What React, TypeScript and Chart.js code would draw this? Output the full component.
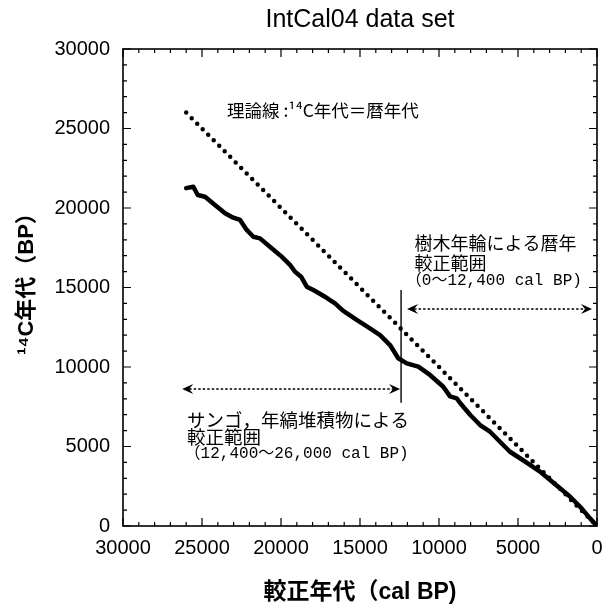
import { useEffect, useRef } from "react";
import { Chart, registerables } from "chart.js";

Chart.register(...registerables);

// IntCal04 calibration curve: calendar age (cal BP) vs radiocarbon age (14C BP)
const calBP = [
  26000, 25550, 25270, 24810, 24180, 23540, 23020, 22590, 22170, 21750,
  21330, 20590, 19960, 19430, 19110, 18730, 18370, 17950, 17220, 16900,
  16580, 16060, 15210, 14370, 13730, 13100, 12580, 12040, 11310, 10570,
  9730, 9300, 8880, 8650, 8020, 7400, 6770, 6140, 5510, 4870,
  4240, 3610, 2970, 2340, 1700, 1070, 440, 0,
];
const c14BP = [
  21250, 21340, 20820, 20710, 20190, 19670, 19390, 19250, 18620, 18190,
  18090, 17470, 16940, 16420, 15990, 15680, 15050, 14840, 14420, 14210,
  14000, 13530, 12960, 12430, 12010, 11380, 10550, 10230, 10020, 9500,
  8760, 8150, 8030, 7720, 6980, 6350, 5930, 5300, 4670, 4260,
  3840, 3420, 2890, 2370, 1840, 1210, 480, 0,
];

// Theoretical line: 14C age equals calendar age
const theoryCal = [26000, 0];
const theoryC14 = [26000, 0];

// Calibration ranges (cal BP)
const treeRingRange = [12400, 0];
const varveRange = [26000, 12400];

const xTickValues = [30000, 25000, 20000, 15000, 10000, 5000, 0];
const yTickValues = [0, 5000, 10000, 15000, 20000, 25000, 30000];

const SANS = "'Liberation Sans', 'Noto Sans CJK JP', sans-serif";
const CJK = "'Noto Sans CJK JP', sans-serif";
const MONO = "'Liberation Mono', 'Noto Sans CJK JP', monospace";

function arrowHead(ctx: CanvasRenderingContext2D, tx: number, ty: number, dir: number) {
  ctx.beginPath();
  ctx.moveTo(tx, ty);
  ctx.lineTo(tx + dir * 11, ty - 5);
  ctx.lineTo(tx + dir * 7, ty);
  ctx.lineTo(tx + dir * 11, ty + 5);
  ctx.closePath();
  ctx.fill();
}

function rangeArrow(ctx: CanvasRenderingContext2D, x1: number, x2: number, yy: number) {
  const l = Math.min(x1, x2);
  const r = Math.max(x1, x2);
  ctx.save();
  ctx.lineWidth = 1.5;
  ctx.setLineDash([2.5, 2]);
  ctx.beginPath();
  ctx.moveTo(l + 7, yy);
  ctx.lineTo(r - 7, yy);
  ctx.stroke();
  ctx.setLineDash([]);
  arrowHead(ctx, l, yy, 1);
  arrowHead(ctx, r, yy, -1);
  ctx.restore();
}

const decorations = {
  id: "decorations",
  afterDraw(chart: any) {
    const { ctx, chartArea: a, scales } = chart;
    const x = scales.x;
    const y = scales.y;
    const px = (v: number) => x.getPixelForValue(v);
    const py = (v: number) => y.getPixelForValue(v);
    ctx.save();
    ctx.strokeStyle = "#000";
    ctx.fillStyle = "#000";

    // frame
    ctx.lineWidth = 1.6;
    ctx.strokeRect(a.left, a.top, a.right - a.left, a.bottom - a.top);

    // inward ticks on all four sides
    ctx.lineWidth = 1.2;
    ctx.beginPath();
    for (let v = 0; v <= 30000; v += 1000) {
      const len = v % 5000 === 0 ? 8 : 4;
      const xp = px(v);
      const yp = py(v);
      ctx.moveTo(xp, a.bottom);
      ctx.lineTo(xp, a.bottom - len);
      ctx.moveTo(xp, a.top);
      ctx.lineTo(xp, a.top + len);
      ctx.moveTo(a.left, yp);
      ctx.lineTo(a.left + len, yp);
      ctx.moveTo(a.right, yp);
      ctx.lineTo(a.right - len, yp);
    }
    ctx.stroke();

    // title and axis titles
    ctx.textBaseline = "middle";
    ctx.textAlign = "center";
    ctx.font = `25px ${SANS}`;
    ctx.fillText("IntCal04 data set", (a.left + a.right) / 2, 20);
    ctx.font = `bold 23px ${SANS}`;
    ctx.fillText("較正年代（cal BP)", (a.left + a.right) / 2, 593);
    ctx.font = `bold 22px ${SANS}`;
    ctx.save();
    ctx.translate(27, (a.top + a.bottom) / 2 - 9);
    ctx.rotate(-Math.PI / 2);
    ctx.fillText("¹⁴C年代（BP）", 0, 0);
    ctx.restore();

    // theoretical line label
    ctx.textAlign = "left";
    ctx.font = `17.5px ${CJK}`;
    ctx.fillText("理論線 :¹⁴C年代＝暦年代", px(23420), py(26150));

    // boundary between the two calibration ranges
    ctx.lineWidth = 1.4;
    ctx.beginPath();
    ctx.moveTo(px(treeRingRange[0]), py(14850));
    ctx.lineTo(px(treeRingRange[0]), py(7750));
    ctx.stroke();

    // range arrows
    rangeArrow(ctx, px(treeRingRange[0]) + 6, px(treeRingRange[1]) - 5, py(13650));
    rangeArrow(ctx, px(varveRange[0]) - 4, px(varveRange[1]) - 1, py(8620));

    // tree-ring range label
    ctx.font = `18px ${CJK}`;
    ctx.fillText("樹木年輪による暦年", px(11550), py(17800));
    ctx.fillText("較正範囲", px(11550), py(16540));
    ctx.font = `16px ${MONO}`;
    ctx.fillText("（0〜12,400 cal BP)", px(12100), py(15400));

    // coral / varve range label
    ctx.font = `18.5px ${CJK}`;
    ctx.fillText("サンゴ，年縞堆積物による", px(25950), py(6650));
    ctx.fillText("較正範囲", px(25950), py(5580));
    ctx.font = `16px ${MONO}`;
    ctx.fillText("（12,400〜26,000 cal BP)", px(26100), py(4520));

    ctx.restore();
  },
};

export default function App() {
  const canvasRef = useRef<HTMLCanvasElement>(null);

  useEffect(() => {
    const canvas = canvasRef.current;
    if (!canvas) return;
    const tickFont = { family: SANS, size: 20 };
    const clearPadding = (s: any) => {
      s.paddingLeft = 0;
      s.paddingRight = 0;
      s.paddingTop = 0;
      s.paddingBottom = 0;
    };
    const chart = new Chart(canvas, {
      type: "line",
      data: {
        datasets: [
          {
            label: "IntCal04",
            data: calBP.map((c, i) => ({ x: c, y: c14BP[i] })),
            borderColor: "#000",
            borderWidth: 4.5,
            pointRadius: 0,
            tension: 0,
            borderJoinStyle: "round",
            borderCapStyle: "round",
            fill: false,
          },
          {
            label: "theory",
            data: theoryCal.map((c, i) => ({ x: c, y: theoryC14[i] })),
            borderColor: "#000",
            borderWidth: 4.5,
            borderDash: [0, 7.8],
            borderCapStyle: "round",
            pointRadius: 0,
            fill: false,
          },
        ],
      },
      options: {
        animation: false,
        responsive: false,
        devicePixelRatio: 1,
        layout: { padding: { left: 0, right: 7, top: 49, bottom: 0 } },
        plugins: {
          legend: { display: false },
          tooltip: { enabled: false },
          title: { display: false },
        },
        scales: {
          x: {
            type: "linear",
            reverse: true,
            min: 0,
            max: 30000,
            grid: { display: false, drawTicks: false },
            border: { display: false },
            afterBuildTicks: (s: any) => {
              s.ticks = xTickValues.map((value) => ({ value }));
            },
            afterFit: (s: any) => {
              s.height = 82;
              clearPadding(s);
            },
            ticks: {
              font: tickFont,
              color: "#000",
              padding: 10,
              maxRotation: 0,
              autoSkip: false,
              callback: (v: any) => String(v),
            },
          },
          y: {
            type: "linear",
            min: 0,
            max: 30000,
            grid: { display: false, drawTicks: false },
            border: { display: false },
            afterBuildTicks: (s: any) => {
              s.ticks = yTickValues.map((value) => ({ value }));
            },
            afterFit: (s: any) => {
              s.width = 123;
              clearPadding(s);
            },
            ticks: {
              font: tickFont,
              color: "#000",
              padding: 13,
              autoSkip: false,
              callback: (v: any) => String(v),
            },
          },
        },
      },
      plugins: [decorations],
    } as any);
    return () => chart.destroy();
  }, []);

  return (
    <div style={{ position: "absolute", left: 0, top: 0, width: 604, height: 608, background: "#fff" }}>
      <canvas ref={canvasRef} width={604} height={608} style={{ display: "block" }} />
    </div>
  );
}
